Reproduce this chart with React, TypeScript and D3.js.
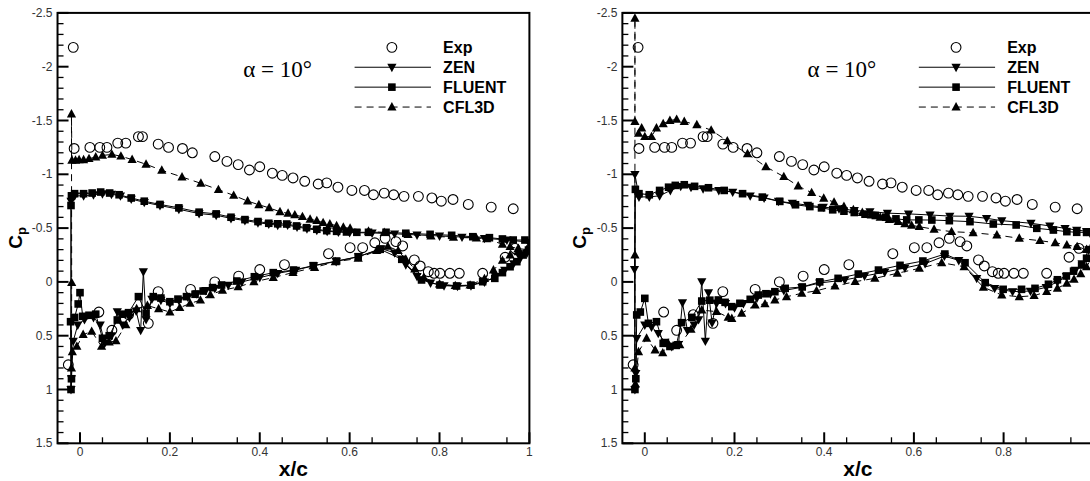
import React from "react";
import * as d3 from "d3";

type Pt = [number, number];

const X_TICKS = [0, 0.2, 0.4, 0.6, 0.8, 1];
const X_TICK_LABELS = ["0", "0.2", "0.4", "0.6", "0.8", "1"];
const Y_TICKS = [-2.5, -2, -1.5, -1, -0.5, 0, 0.5, 1, 1.5];
const Y_TICK_LABELS = ["-2.5", "-2", "-1.5", "-1", "-0.5", "0", "0.5", "1", "1.5"];
const LEGEND = ["Exp", "ZEN", "FLUENT", "CFL3D"];
const ALPHA_LABEL = "α = 10°";

// Experiment (same in both panels)
const EXP_UPPER: Pt[] = [
  [-0.015, -2.18], [-0.013, -1.24], [0.022, -1.25], [0.044, -1.25], [0.06, -1.25], [0.084, -1.29], [0.102, -1.29],
  [0.13, -1.35], [0.139, -1.35], [0.174, -1.28], [0.197, -1.25], [0.228, -1.24], [0.25, -1.2], [0.3, -1.165],
  [0.327, -1.12], [0.352, -1.09], [0.377, -1.04], [0.4, -1.07], [0.428, -1.01], [0.45, -0.99], [0.474, -0.966],
  [0.5, -0.935], [0.53, -0.91], [0.549, -0.92], [0.574, -0.88], [0.605, -0.85], [0.633, -0.85], [0.653, -0.81],
  [0.677, -0.825], [0.698, -0.81], [0.721, -0.795], [0.753, -0.795], [0.783, -0.78], [0.804, -0.75], [0.83, -0.766],
  [0.864, -0.72], [0.915, -0.695], [0.964, -0.68],
];
const EXP_LOWER: Pt[] = [
  [-0.026, 0.77], [0.042, 0.28], [0.071, 0.45], [0.108, 0.305], [0.152, 0.385], [0.174, 0.09], [0.246, 0.07],
  [0.3, 0.0], [0.353, -0.053], [0.4, -0.115], [0.455, -0.16], [0.553, -0.262], [0.601, -0.318], [0.629, -0.318],
  [0.656, -0.364], [0.679, -0.405], [0.703, -0.374], [0.718, -0.334], [0.744, -0.204], [0.757, -0.148],
  [0.775, -0.095], [0.788, -0.08], [0.801, -0.08], [0.823, -0.08], [0.844, -0.08], [0.896, -0.08], [0.946, -0.229],
  [0.968, -0.312],
];

// Left panel
const L_ZEN_UPPER: Pt[] = [
  [-0.02, -0.75], [-0.012, -0.8], [0.008, -0.8], [0.03, -0.81], [0.05, -0.82], [0.07, -0.815], [0.09, -0.8],
  [0.114, -0.77], [0.143, -0.74], [0.178, -0.71], [0.22, -0.675], [0.265, -0.635], [0.303, -0.62], [0.336, -0.59],
  [0.367, -0.57], [0.396, -0.55], [0.42, -0.537], [0.44, -0.527], [0.462, -0.528], [0.483, -0.51], [0.505, -0.495],
  [0.527, -0.48], [0.55, -0.47], [0.575, -0.463], [0.6, -0.458], [0.65, -0.455], [0.7, -0.447], [0.75, -0.437],
  [0.8, -0.427], [0.85, -0.417], [0.9, -0.405], [0.95, -0.39], [0.998, -0.37],
];
const L_ZEN_LOWER: Pt[] = [
  [-0.02, 1.0], [-0.019, 0.9], [-0.015, 0.55], [-0.005, 0.4], [0.01, 0.35], [0.03, 0.33], [0.045, 0.4],
  [0.055, 0.57], [0.07, 0.5], [0.083, 0.277], [0.095, 0.4], [0.11, 0.33], [0.125, 0.27], [0.135, 0.45],
  [0.141, -0.095], [0.147, 0.35], [0.16, 0.16], [0.18, 0.17], [0.2, 0.2], [0.22, 0.17], [0.24, 0.14], [0.26, 0.11],
  [0.28, 0.08], [0.3, 0.06], [0.33, 0.03], [0.36, 0.0], [0.4, -0.04], [0.44, -0.08], [0.48, -0.11], [0.52, -0.15],
  [0.57, -0.19], [0.62, -0.235], [0.67, -0.31], [0.7, -0.27], [0.725, -0.16], [0.75, -0.05], [0.78, 0.01],
  [0.81, 0.035], [0.84, 0.04], [0.87, 0.035], [0.9, 0.0], [0.925, -0.05], [0.945, -0.11], [0.965, -0.17],
  [0.98, -0.22], [0.995, -0.27],
];
const L_FLUENT_UPPER: Pt[] = [
  [-0.02, -0.71], [-0.019, -0.8], [-0.012, -0.82], [0.008, -0.82], [0.027, -0.826], [0.046, -0.835],
  [0.066, -0.826], [0.087, -0.81], [0.114, -0.78], [0.143, -0.75], [0.178, -0.72], [0.22, -0.688], [0.265, -0.648],
  [0.303, -0.632], [0.336, -0.601], [0.367, -0.579], [0.396, -0.561], [0.42, -0.545], [0.44, -0.54], [0.46, -0.538],
  [0.482, -0.52], [0.504, -0.504], [0.527, -0.489], [0.549, -0.476], [0.571, -0.47], [0.593, -0.464],
  [0.616, -0.461], [0.642, -0.461], [0.681, -0.461], [0.725, -0.452], [0.779, -0.442], [0.827, -0.433],
  [0.874, -0.42], [0.911, -0.411], [0.94, -0.399], [0.964, -0.389], [0.99, -0.389],
];
const L_FLUENT_LOWER: Pt[] = [
  [-0.02, 1.0], [-0.019, 0.9], [-0.021, 0.37], [-0.012, 0.33], [-0.004, 0.205], [0.0, 0.1], [0.006, 0.32],
  [0.02, 0.31], [0.035, 0.3], [0.05, 0.524], [0.065, 0.5], [0.083, 0.354], [0.095, 0.3], [0.108, 0.286],
  [0.13, 0.137], [0.147, 0.29], [0.163, 0.137], [0.18, 0.15], [0.2, 0.184], [0.218, 0.16], [0.237, 0.137],
  [0.256, 0.115], [0.274, 0.085], [0.295, 0.053], [0.315, 0.029], [0.349, -0.008], [0.388, -0.048], [0.43, -0.086],
  [0.475, -0.11], [0.519, -0.151], [0.571, -0.194], [0.619, -0.234], [0.668, -0.303], [0.716, -0.21],
  [0.76, -0.018], [0.801, 0.029], [0.838, 0.038], [0.87, 0.03], [0.896, -0.002], [0.923, -0.033], [0.94, -0.086],
  [0.957, -0.141], [0.972, -0.188], [0.986, -0.25], [0.998, -0.296],
];
const L_CFL3D_UPPER: Pt[] = [
  [-0.019, -1.56], [-0.018, -1.13], [-0.01, -1.13], [-0.002, -1.135], [0.008, -1.135], [0.02, -1.145],
  [0.035, -1.16], [0.05, -1.175], [0.071, -1.185], [0.091, -1.168], [0.116, -1.137], [0.147, -1.093],
  [0.182, -1.037], [0.227, -0.975], [0.269, -0.916], [0.308, -0.857], [0.342, -0.804], [0.373, -0.751],
  [0.398, -0.717], [0.421, -0.688], [0.445, -0.652], [0.463, -0.637], [0.478, -0.622], [0.495, -0.606],
  [0.512, -0.582], [0.527, -0.569], [0.541, -0.55], [0.556, -0.538], [0.571, -0.522], [0.586, -0.507],
  [0.601, -0.498], [0.642, -0.47], [0.677, -0.458], [0.73, -0.44], [0.781, -0.425], [0.831, -0.414],
  [0.882, -0.408], [0.905, -0.4], [0.94, -0.35], [0.957, -0.327], [0.975, -0.31], [0.995, -0.3],
];
const L_CFL3D_LOWER: Pt[] = [
  [-0.0185, 0.007], [-0.019, 0.8], [-0.017, 0.65], [-0.007, 0.6], [0.007, 0.49], [0.026, 0.46], [0.048, 0.6],
  [0.065, 0.56], [0.08, 0.549], [0.102, 0.4], [0.126, 0.25], [0.15, 0.22], [0.175, 0.25], [0.2, 0.28],
  [0.222, 0.24], [0.245, 0.2], [0.268, 0.17], [0.29, 0.12], [0.317, 0.078], [0.352, 0.047], [0.387, 0.0],
  [0.43, -0.04], [0.474, -0.087], [0.522, -0.134], [0.568, -0.187], [0.619, -0.218], [0.66, -0.29],
  [0.685, -0.33], [0.708, -0.29], [0.725, -0.21], [0.745, -0.12], [0.765, -0.04], [0.8, 0.02], [0.835, 0.035],
  [0.868, 0.03], [0.9, -0.03], [0.92, -0.11], [0.94, -0.2], [0.957, -0.25], [0.975, -0.28], [0.995, -0.3],
];

// Right panel
const R_ZEN_UPPER: Pt[] = [
  [-0.022, -1.0], [-0.013, -0.79], [0.01, -0.79], [0.033, -0.8], [0.057, -0.85], [0.08, -0.888], [0.103, -0.88],
  [0.13, -0.866], [0.165, -0.85], [0.196, -0.835], [0.235, -0.8], [0.266, -0.78], [0.298, -0.75], [0.329, -0.732],
  [0.363, -0.713], [0.398, -0.695], [0.433, -0.68], [0.467, -0.664], [0.502, -0.654], [0.541, -0.639],
  [0.588, -0.632], [0.636, -0.622], [0.68, -0.612], [0.723, -0.61], [0.762, -0.591], [0.796, -0.569],
  [0.861, -0.545], [0.903, -0.52], [0.937, -0.498], [0.963, -0.482], [0.985, -0.47], [1.0, -0.45],
];
const R_ZEN_LOWER: Pt[] = [
  [-0.023, -0.117], [-0.022, 1.0], [-0.02, 0.85], [-0.018, 0.524], [0.0, 0.4], [0.015, 0.42], [0.03, 0.478],
  [0.045, 0.56], [0.06, 0.6], [0.075, 0.58], [0.084, 0.193], [0.095, 0.45], [0.11, 0.4], [0.12, 0.35],
  [0.127, -0.002], [0.135, 0.55], [0.142, 0.1], [0.15, 0.38], [0.16, 0.2], [0.18, 0.2], [0.2, 0.24], [0.22, 0.2],
  [0.25, 0.15], [0.28, 0.11], [0.31, 0.08], [0.35, 0.05], [0.39, 0.01], [0.446, -0.018], [0.49, -0.055],
  [0.535, -0.09], [0.58, -0.13], [0.625, -0.17], [0.668, -0.24], [0.7, -0.2], [0.74, -0.033], [0.78, 0.06],
  [0.82, 0.09], [0.86, 0.085], [0.895, 0.05], [0.92, 0.0], [0.94, -0.05], [0.96, -0.11], [0.975, -0.17],
  [0.99, -0.3], [1.0, -0.45],
];
const R_FLUENT_UPPER: Pt[] = [
  [-0.021, -0.86], [-0.013, -0.82], [0.01, -0.81], [0.033, -0.85], [0.053, -0.88], [0.068, -0.897],
  [0.088, -0.903], [0.111, -0.888], [0.142, -0.875], [0.177, -0.85], [0.218, -0.82], [0.262, -0.788],
  [0.301, -0.748], [0.336, -0.717], [0.368, -0.7], [0.394, -0.688], [0.419, -0.67], [0.444, -0.657],
  [0.467, -0.645], [0.491, -0.629], [0.514, -0.617], [0.537, -0.601], [0.56, -0.586], [0.584, -0.576],
  [0.611, -0.576], [0.64, -0.575], [0.679, -0.569], [0.725, -0.56], [0.777, -0.538], [0.828, -0.529],
  [0.874, -0.498], [0.911, -0.482], [0.941, -0.467], [0.963, -0.461], [0.985, -0.46], [1.0, -0.45],
];
const R_FLUENT_LOWER: Pt[] = [
  [-0.022, 1.0], [-0.02, 0.9], [-0.018, 0.307], [-0.01, 0.28], [0.0, 0.153], [0.008, 0.385], [0.026, 0.37],
  [0.041, 0.571], [0.056, 0.6], [0.07, 0.59], [0.082, 0.379], [0.105, 0.33], [0.127, 0.178], [0.145, 0.17],
  [0.164, 0.168], [0.179, 0.19], [0.194, 0.23], [0.212, 0.199], [0.235, 0.162], [0.253, 0.122], [0.27, 0.11],
  [0.29, 0.091], [0.313, 0.06], [0.351, 0.047], [0.39, 0.0], [0.431, -0.033], [0.476, -0.073], [0.521, -0.11],
  [0.569, -0.154], [0.62, -0.194], [0.669, -0.259], [0.714, -0.178], [0.759, 0.007], [0.799, 0.069],
  [0.84, 0.069], [0.87, 0.06], [0.9, 0.022], [0.92, -0.02], [0.94, -0.055], [0.956, -0.1], [0.974, -0.157],
  [0.985, -0.22], [0.993, -0.3], [1.0, -0.45],
];
const R_CFL3D_UPPER: Pt[] = [
  [-0.022, -2.45], [-0.022, -1.49], [-0.007, -1.43], [-0.014, -1.38], [0.0, -1.35], [0.015, -1.35],
  [0.026, -1.43], [0.041, -1.47], [0.056, -1.5], [0.071, -1.51], [0.088, -1.49], [0.116, -1.46], [0.148, -1.41],
  [0.184, -1.31], [0.229, -1.19], [0.27, -1.07], [0.31, -0.978], [0.342, -0.891], [0.372, -0.829],
  [0.399, -0.777], [0.422, -0.741], [0.444, -0.7], [0.465, -0.67], [0.485, -0.645], [0.505, -0.62],
  [0.525, -0.6], [0.545, -0.58], [0.565, -0.56], [0.58, -0.54], [0.595, -0.525], [0.612, -0.513],
  [0.645, -0.489], [0.684, -0.467], [0.732, -0.457], [0.785, -0.436], [0.835, -0.405], [0.881, -0.383],
  [0.915, -0.364], [0.941, -0.343], [0.964, -0.327], [0.985, -0.3], [1.0, -0.25],
];
const R_CFL3D_LOWER: Pt[] = [
  [-0.022, -0.25], [-0.022, 0.8], [-0.021, 0.95], [-0.014, 0.65], [0.004, 0.524], [0.023, 0.633], [0.04, 0.66],
  [0.052, 0.571], [0.078, 0.586], [0.103, 0.44], [0.127, 0.261], [0.16, 0.277], [0.186, 0.329], [0.194, 0.34],
  [0.216, 0.292], [0.246, 0.215], [0.268, 0.205], [0.29, 0.168], [0.316, 0.138], [0.35, 0.106], [0.383, 0.082],
  [0.424, 0.038], [0.469, -0.002], [0.513, -0.033], [0.563, -0.08], [0.612, -0.126], [0.662, -0.178],
  [0.712, -0.141], [0.755, 0.05], [0.796, 0.122], [0.835, 0.138], [0.868, 0.128], [0.896, 0.091], [0.92, 0.06],
  [0.941, 0.013], [0.957, -0.024], [0.972, -0.075], [0.985, -0.14], [1.0, -0.25],
];

const W = 1090;
const H = 481;

function surfacePath(upper: Pt[], lower: Pt[]): Pt[] {
  return [...upper.slice().reverse(), ...lower];
}

type Sym = "circle" | "down" | "square" | "up";

function Marker({ x, y, sym }: { x: number; y: number; sym: Sym }) {
  if (sym === "circle") return <circle cx={x} cy={y} r={4.9} fill="none" stroke="#000" strokeWidth={1.1} />;
  if (sym === "square") return <rect x={x - 3.8} y={y - 3.8} width={7.6} height={7.6} fill="#000" />;
  if (sym === "up")
    return <path d={`M${x},${y - 5}L${x + 4.6},${y + 3.4}L${x - 4.6},${y + 3.4}Z`} fill="#000" />;
  return <path d={`M${x},${y + 5}L${x + 4.6},${y - 3.4}L${x - 4.6},${y - 3.4}Z`} fill="#000" />;
}

interface PanelProps {
  id: string;
  x0: number; // pixel of x = 0
  unit: number; // pixels per unit x
  zen: Pt[];
  fluent: Pt[];
  cfl: Pt[];
}

const FONT = "Liberation Sans, Arial, Helvetica, sans-serif";

function Panel({ id, x0, unit, zen, fluent, cfl }: PanelProps) {
  const top = 12.9;
  const bottom = 443.3;
  const x = d3.scaleLinear().domain([-0.05, 1]).range([x0 - 0.05 * unit, x0 + unit]);
  const y = d3.scaleLinear().domain([-2.5, 1.5]).range([top, bottom]);
  const left = x(-0.05);
  const right = x(1);
  const line = d3
    .line<Pt>()
    .x((d) => x(d[0]))
    .y((d) => y(d[1]));
  const xMinor = d3.range(0.05, 1.0, 0.1).map((v) => +v.toFixed(2));
  const yMinor = d3
    .range(-2.4, 1.5, 0.1)
    .map((v) => +v.toFixed(2))
    .filter((v) => Math.abs(v * 2 - Math.round(v * 2)) > 1e-6);
  // legend placed in data coordinates
  const legL = x(0.611);
  const legM = x(0.694);
  const legR = x(0.781);
  const legT = x(0.808);
  const rows = [-2.18, -1.995, -1.81, -1.625].map((v) => y(v));
  return (
    <g>
      <defs>
        <clipPath id={id}>
          <rect x={left} y={top} width={right - left} height={bottom - top} />
        </clipPath>
      </defs>
      <g clipPath={`url(#${id})`}>
        <path d={line(cfl) || ""} fill="none" stroke="#000" strokeWidth={1} strokeDasharray="7,5" />
        <path d={line(fluent) || ""} fill="none" stroke="#000" strokeWidth={1} />
        <path d={line(zen) || ""} fill="none" stroke="#000" strokeWidth={1} />
        {cfl.map((d, i) => (
          <Marker key={"c" + i} x={x(d[0])} y={y(d[1])} sym="up" />
        ))}
        {fluent.map((d, i) => (
          <Marker key={"f" + i} x={x(d[0])} y={y(d[1])} sym="square" />
        ))}
        {zen.map((d, i) => (
          <Marker key={"z" + i} x={x(d[0])} y={y(d[1])} sym="down" />
        ))}
        {[...EXP_UPPER, ...EXP_LOWER].map((d, i) => (
          <Marker key={"e" + i} x={x(d[0])} y={y(d[1])} sym="circle" />
        ))}
      </g>
      {/* frame */}
      <rect x={left} y={top} width={right - left} height={bottom - top} fill="none" stroke="#000" strokeWidth={2} />
      {/* x ticks */}
      {X_TICKS.map((t) => (
        <line key={"xt" + t} x1={x(t)} x2={x(t)} y1={bottom} y2={bottom - 11} stroke="#000" strokeWidth={2} />
      ))}
      {xMinor.map((t) => (
        <line key={"xm" + t} x1={x(t)} x2={x(t)} y1={bottom} y2={bottom - 6} stroke="#000" strokeWidth={1.3} />
      ))}
      {X_TICKS.map((t, i) =>
        x(t) < W - 4 ? (
          <text key={"xl" + t} x={x(t)} y={bottom + 13} textAnchor="middle" fontFamily={FONT} fontSize={12} fill="#333">
            {X_TICK_LABELS[i]}
          </text>
        ) : null
      )}
      {/* y ticks */}
      {Y_TICKS.map((t) => (
        <line key={"yt" + t} x1={left} x2={left + 11} y1={y(t)} y2={y(t)} stroke="#000" strokeWidth={2} />
      ))}
      {yMinor.map((t) => (
        <line key={"ym" + t} x1={left} x2={left + 6} y1={y(t)} y2={y(t)} stroke="#000" strokeWidth={1.3} />
      ))}
      {Y_TICKS.map((t, i) => (
        <text key={"yl" + t} x={left - 5} y={y(t) + 4} textAnchor="end" fontFamily={FONT} fontSize={12} fill="#333">
          {Y_TICK_LABELS[i]}
        </text>
      ))}
      {/* axis titles */}
      <text x={(left + right) / 2} y={476} textAnchor="middle" fontFamily={FONT} fontWeight="bold" fontSize={21}>
        x/c
      </text>
      <text transform={`translate(${left - 36},238) rotate(-90)`} textAnchor="middle" fontFamily={FONT} fontWeight="bold" fontSize={19}>
        C<tspan fontSize={13} dy={4}>p</tspan>
      </text>
      {/* alpha label */}
      <text x={x(0.363)} y={76.7} fontFamily="Liberation Serif, Times New Roman, serif" fontSize={23}>
        {ALPHA_LABEL}
      </text>
      {/* legend */}
      <Marker x={legM} y={rows[0]} sym="circle" />
      <line x1={legL} x2={legR} y1={rows[1]} y2={rows[1]} stroke="#000" strokeWidth={1} />
      <Marker x={legM} y={rows[1]} sym="down" />
      <line x1={legL} x2={legR} y1={rows[2]} y2={rows[2]} stroke="#000" strokeWidth={1} />
      <Marker x={legM} y={rows[2]} sym="square" />
      <line x1={legL} x2={legR} y1={rows[3]} y2={rows[3]} stroke="#000" strokeWidth={1} strokeDasharray="7,5" />
      <Marker x={legM} y={rows[3]} sym="up" />
      {LEGEND.map((s, i) => (
        <text key={s} x={legT} y={rows[i] + 5.7} fontFamily={FONT} fontWeight="bold" fontSize={16}>
          {s}
        </text>
      ))}
    </g>
  );
}

export default function App() {
  return (
    <svg width={W} height={H} style={{ position: "absolute", left: 0, top: 0, background: "#fff" }}>
      <rect width={W} height={H} fill="#fff" />
      <Panel
        id="clipL"
        x0={80}
        unit={449.4}
        zen={surfacePath(L_ZEN_UPPER, L_ZEN_LOWER)}
        fluent={surfacePath(L_FLUENT_UPPER, L_FLUENT_LOWER)}
        cfl={surfacePath(L_CFL3D_UPPER, L_CFL3D_LOWER)}
      />
      <Panel
        id="clipR"
        x0={644.8}
        unit={448.5}
        zen={surfacePath(R_ZEN_UPPER, R_ZEN_LOWER)}
        fluent={surfacePath(R_FLUENT_UPPER, R_FLUENT_LOWER)}
        cfl={surfacePath(R_CFL3D_UPPER, R_CFL3D_LOWER)}
      />
    </svg>
  );
}
